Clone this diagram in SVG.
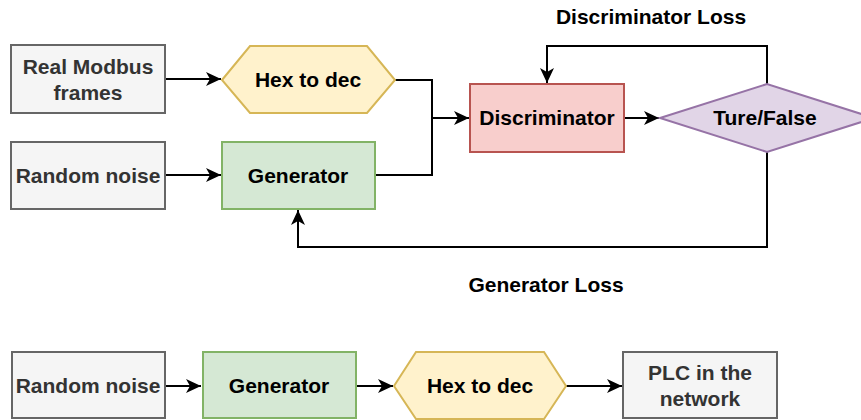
<svg xmlns="http://www.w3.org/2000/svg" width="861" height="420" viewBox="0 0 861 420">
<defs>
<marker id="arr" markerUnits="userSpaceOnUse" markerWidth="16" markerHeight="16" refX="15" refY="8" orient="auto" viewBox="0 0 16 16">
<path d="M0,1 L15,8 L0,15 L4,8 Z" fill="#000"/>
</marker>
<style>
.t{font-family:"Liberation Sans",Arial,sans-serif;font-weight:bold;font-size:21px;text-anchor:middle;fill:#000}
.g{fill:#333333}
.gray{fill:#f5f5f5;stroke:#666666;stroke-width:2}
.green{fill:#d5e8d4;stroke:#82b366;stroke-width:2}
.yellow{fill:#fff2cc;stroke:#d6b656;stroke-width:2}
.red{fill:#f8cecc;stroke:#b85450;stroke-width:2}
.purple{fill:#e1d5e7;stroke:#9673a6;stroke-width:2}
.c{fill:none;stroke:#000;stroke-width:2}
</style>
</defs>
<g id="connectors">
<path class="c" d="M165,79 H221" marker-end="url(#arr)"/>
<path class="c" d="M165,175 H221" marker-end="url(#arr)"/>
<path class="c" d="M395,80 H432 V175 H375"/>
<path class="c" d="M432,118 H469" marker-end="url(#arr)"/>
<path class="c" d="M624,118 H659" marker-end="url(#arr)"/>
<path class="c" d="M767,84 V46 H547 V83" marker-end="url(#arr)"/>
<path class="c" d="M767,152 V247 H298 V210" marker-end="url(#arr)"/>
<path class="c" d="M165,386 H201" marker-end="url(#arr)"/>
<path class="c" d="M356,386 H393" marker-end="url(#arr)"/>
<path class="c" d="M566,386 H622" marker-end="url(#arr)"/>
</g>
<g id="real-modbus">
<rect class="gray" x="11" y="45" width="154" height="68"/>
<text class="t g" x="88" y="74">Real Modbus</text>
<text class="t g" x="88" y="100">frames</text>
</g>
<g id="hex1">
<polygon class="yellow" points="222,80 250,46 367,46 395,80 367,113 250,113"/>
<text class="t" x="308" y="87">Hex to dec</text>
</g>
<g id="noise1">
<rect class="gray" x="11" y="142" width="154" height="67"/>
<text class="t g" x="88" y="183">Random noise</text>
</g>
<g id="gen1">
<rect class="green" x="222" y="142" width="153" height="67"/>
<text class="t" x="298" y="183">Generator</text>
</g>
<g id="disc">
<rect class="red" x="470" y="84" width="154" height="68"/>
<text class="t" x="547" y="125">Discriminator</text>
</g>
<g id="truefalse">
<polygon class="purple" points="660,118 767,84 874,118 767,152"/>
<text class="t" x="765" y="125">Ture/False</text>
</g>
<g id="labels">
<text class="t" x="651" y="24">Discriminator Loss</text>
<text class="t" x="546" y="292">Generator Loss</text>
</g>
<g id="noise2">
<rect class="gray" x="12" y="352" width="153" height="66"/>
<text class="t g" x="88" y="393">Random noise</text>
</g>
<g id="gen2">
<rect class="green" x="203" y="352" width="153" height="66"/>
<text class="t" x="279" y="393">Generator</text>
</g>
<g id="hex2">
<polygon class="yellow" points="394,386 416,352 544,352 566,386 544,419 416,419"/>
<text class="t" x="480" y="393">Hex to dec</text>
</g>
<g id="plc">
<rect class="gray" x="623" y="352" width="154" height="66"/>
<text class="t g" x="700" y="380">PLC in the</text>
<text class="t g" x="700" y="406">network</text>
</g>
</svg>
